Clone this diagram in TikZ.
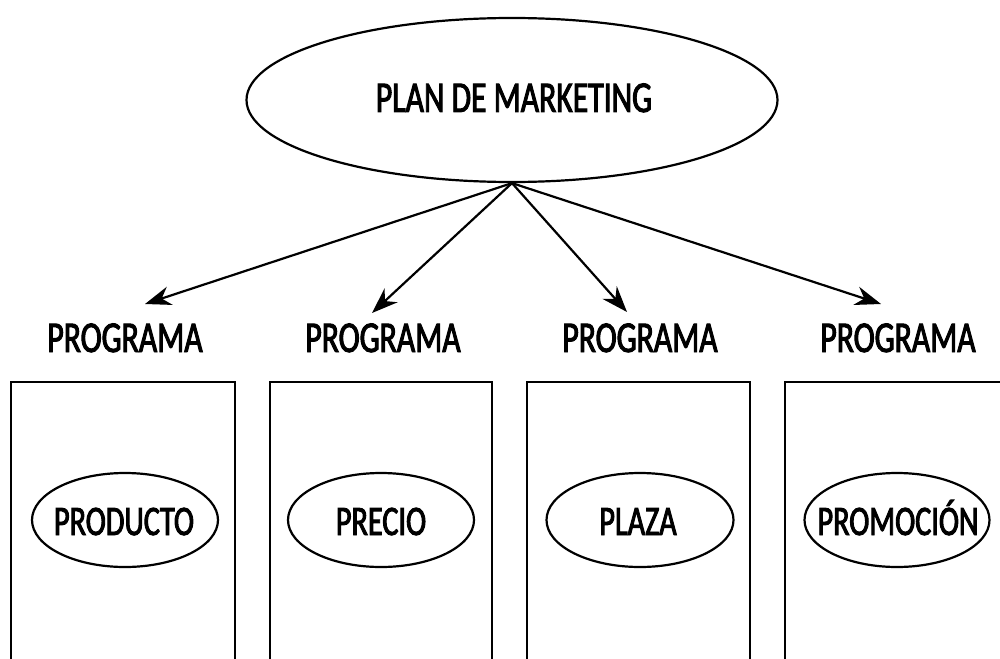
\documentclass[tikz,border=0pt]{standalone}
\usepackage{fontspec}
\setmainfont{Carlito}[FakeStretch=0.72,FakeBold=2.2]
\usetikzlibrary{arrows.meta,shapes.geometric}
\begin{document}
\begin{tikzpicture}[x=1pt,y=-1pt,
  lbl/.style={font=\fontsize{44}{48}\selectfont, inner sep=0pt, anchor=base},
  inlbl/.style={font=\fontsize{42}{46}\selectfont, inner sep=0pt, anchor=base},
  oval/.style={draw, ellipse, line width=2.2pt, inner sep=0pt},
  conn/.style={line width=2.2pt, -{Stealth[length=26pt,width=19pt]}},
  boxline/.style={line width=2.4pt}]
\useasboundingbox (0,0) rectangle (1000,658);
\clip (0,0) rectangle (1000,658);
% top ellipse
\node[oval, minimum width=531pt, minimum height=164pt] (top) at (512,100) {};
\node[lbl] (toptxt) at (514,112) {PLAN DE MARKETING};
% program labels
\node[lbl] (p1) at (125,352) {PROGRAMA};
\node[lbl] (p2) at (383,352) {PROGRAMA};
\node[lbl] (p3) at (640,352) {PROGRAMA};
\node[lbl] (p4) at (898,352) {PROGRAMA};
% arrow ends
\coordinate (e1) at (145,304);
\coordinate (e2) at (372,313);
\coordinate (e3) at (627,312);
\coordinate (e4) at (881,304);
\draw[conn] (top.south) -- (e1);
\draw[conn] (top.south) -- (e2);
\draw[conn] (top.south) -- (e3);
\draw[conn] (top.south) -- (e4);
% boxes (open at the bottom)
\draw[boxline] (11,700) -- (11,382) -- (235,382) -- (235,700);
\draw[boxline] (270,700) -- (270,382) -- (492,382) -- (492,700);
\draw[boxline] (527,700) -- (527,382) -- (750,382) -- (750,700);
\draw[boxline] (785,700) -- (785,382) -- (1050,382);
% inner ellipses
\node[oval, minimum width=186pt, minimum height=94pt] (o1) at (125,520) {};
\node[oval, minimum width=186pt, minimum height=94pt] (o2) at (381,520) {};
\node[oval, minimum width=187pt, minimum height=94pt] (o3) at (640,520) {};
\node[oval, minimum width=185pt, minimum height=94pt] (o4) at (897,520) {};
\node[inlbl] (t1) at (124,535) {PRODUCTO};
\node[inlbl] (t2) at (381,535) {PRECIO};
\node[inlbl] (t3) at (638,535) {PLAZA};
\node[inlbl] (t4) at (898,535) {PROMOCIÓN};
\end{tikzpicture}
\end{document}
